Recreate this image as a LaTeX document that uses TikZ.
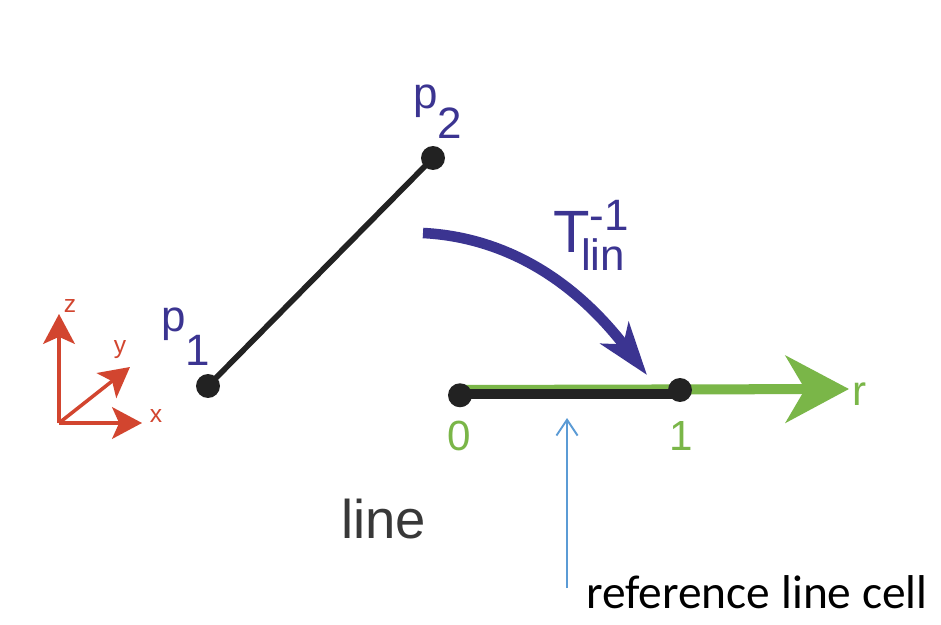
\documentclass[tikz,border=0pt]{standalone}
\usepackage{fontspec}
\setmainfont{Liberation Sans}
\newfontfamily\calibrifont{Carlito}
\usetikzlibrary{positioning,arrows.meta}

\definecolor{axisred}{HTML}{D2452F}
\definecolor{ptblue}{HTML}{3B3491}
\definecolor{refgreen}{HTML}{7AB648}
\definecolor{cellblue}{HTML}{5B9BD5}
\definecolor{dotblack}{HTML}{222222}

\tikzset{
  dot/.style={circle,fill=dotblack,inner sep=0pt,minimum size=0.48cm},
  axis/.style={axisred,line width=2pt,-{Stealth[length=17pt,width=18pt,inset=4pt]}},
  axislabel/.style={axisred,font=\fontsize{14}{14}\selectfont,inner sep=0pt},
  ptlabel/.style={ptblue,font=\fontsize{25}{25}\selectfont,inner sep=0pt,anchor=base west},
  numlabel/.style={refgreen,font=\fontsize{24}{24}\selectfont,inner sep=0pt,anchor=base}
}

\begin{document}
\begin{tikzpicture}[x=0.02cm,y=-0.02cm]
  \useasboundingbox[fill=white] (0,0) rectangle (941,625);
  % coordinate axes
  \coordinate (o) at (59,423);
  \coordinate (zend) at (59,314);
  \coordinate (yend) at (130,367);
  \coordinate (xend) at (142,423);
  \draw[axis] (o) -- (zend);
  \draw[axis] (o) -- (yend);
  \draw[axis] (o) -- (xend);
  \node[axislabel] (zlab) at (70,306) {z};
  \node[axislabel] (ylab) at (120,350) {y};
  \node[axislabel] (xlab) at (156,416) {x};
  % the line p1 p2
  \coordinate (p1) at (208,386);
  \coordinate (p2) at (433,158);
  \draw[dotblack,line width=3.2pt] (p1) -- (p2);
  \node[dot] (p1dot) at (p1) {};
  \node[dot] (p2dot) at (p2) {};
  \node[ptlabel] (p1lab) at (161,332) {p\raisebox{-19pt}{1}};
  \node[ptlabel] (p2lab) at (413,109) {p\raisebox{-17pt}{2}};
  % mapping
  \coordinate (tstart) at (423,233);
  \coordinate (tend) at (647,375);
  \draw[ptblue,line width=6pt,-{Stealth[length=30pt,width=20pt,inset=8pt]}]
    (tstart) .. controls (500,237) and (570,275) .. (tend);
  \node[ptblue,inner sep=0pt,anchor=base west,font=\fontsize{34}{34}\selectfont] (tlab) at (553,253)
    {T\rlap{\raisebox{13pt}{\fontsize{25}{25}\selectfont -1}}\kern-5pt\raisebox{-10pt}{\fontsize{25}{25}\selectfont lin}};
  % reference line cell
  \coordinate (r0) at (460,390);
  \coordinate (r1) at (680,390);
  \coordinate (rend) at (849,389);
  \draw[refgreen,line width=5.7pt,-{Stealth[length=36pt,width=38pt,inset=11pt]}] (r0) -- (rend);
  \draw[dotblack,line width=5.7pt] ([yshift=-2]r0) -- ([yshift=-2]r1);
  \node[dot] (r0dot) at ([yshift=-3]r0) {};
  \node[dot] (r1dot) at (r1) {};
  \node[numlabel] (zerolab) at (459,450) {0};
  \node[numlabel] (onelab) at (681,450) {1};
  \node[numlabel,anchor=base west] (rlab) at (852,405) {r};
  \node[dotblack!90,inner sep=0pt,anchor=base west,font=\fontsize{31}{31}\selectfont] (linelab) at (341,538) {line};
  % annotation
  \node[inner sep=0pt,anchor=base west,font=\calibrifont\fontsize{27}{27}\selectfont] (celllab) at (586,608) {reference line cell};
  \coordinate (cellfoot) at (567,588);
  \coordinate (celltip) at (567,418);
  \draw[cellblue,line width=1.1pt,-{Straight Barb[length=9pt,width=12pt]}] (cellfoot) -- (celltip);
\end{tikzpicture}
\end{document}
